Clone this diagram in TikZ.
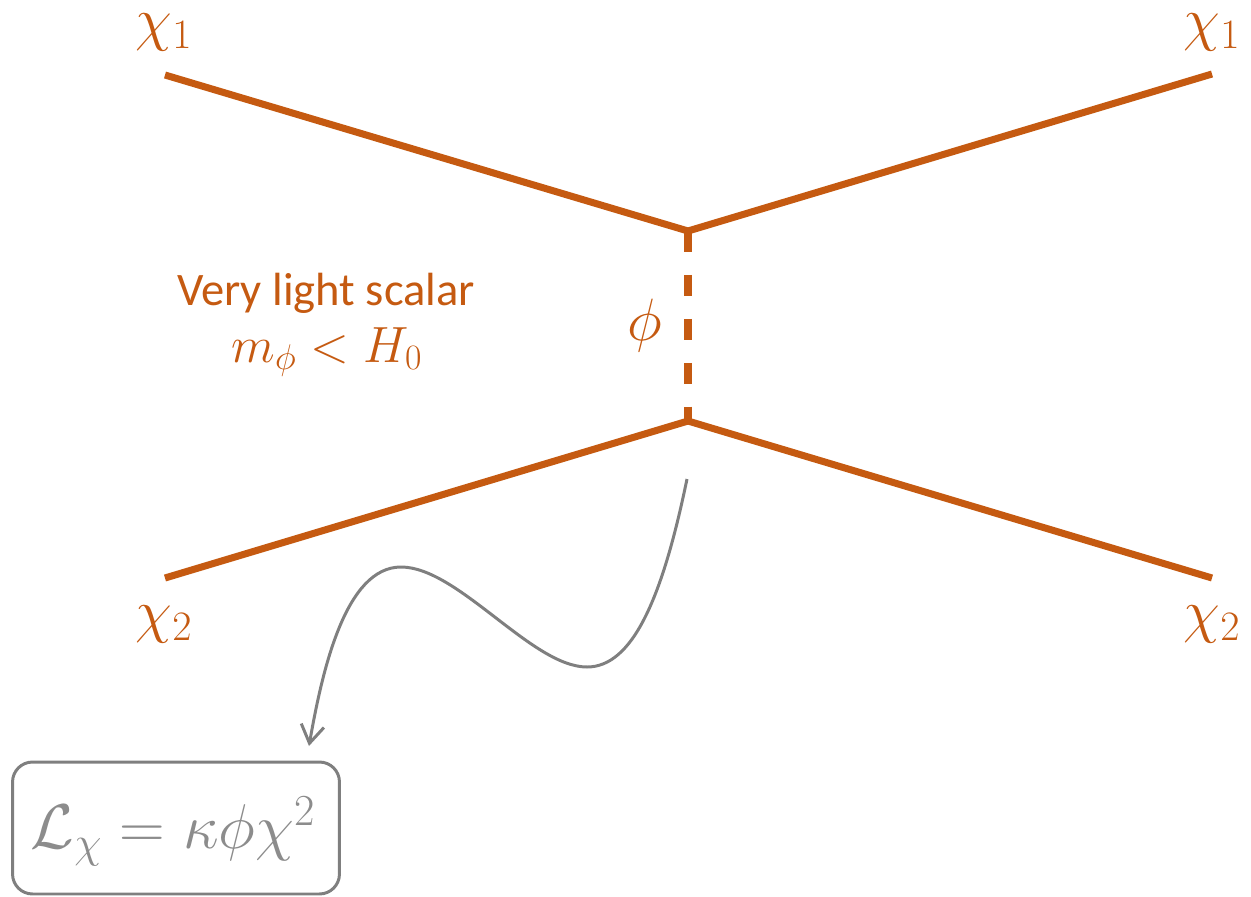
\RequirePackage{fix-cm}
\documentclass[tikz,border=0pt]{standalone}
\usepackage{fontspec}
\newfontfamily\calib{Carlito}
\usetikzlibrary{arrows.meta}
\definecolor{orng}{HTML}{C55A11}
\definecolor{gline}{HTML}{7F7F7F}
\definecolor{gtext}{HTML}{8C8C8C}
\tikzset{
  prop/.style={draw=orng, line width=4pt},
  scal/.style={draw=orng, line width=4pt, dash pattern=on 12.2pt off 12.8pt},
  lbl/.style={text=orng, inner sep=0pt, font=\fontsize{34}{40}\selectfont},
  wig/.style={draw=gline, line width=1.7pt, -{Straight Barb[length=3.6mm,width=4.6mm,line width=1.7pt]}},
  eqbox/.style={draw=gline, line width=1.7pt, rounded corners=0.4cm, minimum width=6.54cm, minimum height=2.64cm, inner sep=0pt, text=gtext}
}
\begin{document}
\begin{tikzpicture}[x=0.02cm,y=-0.02cm]
\useasboundingbox (0,0) rectangle (1251,896);
\coordinate (a1) at (165,75);
\coordinate (b1) at (1212,74);
\coordinate (a2) at (165,578);
\coordinate (b2) at (1212,578);
\coordinate (v1) at (688,231);
\coordinate (v2) at (688,421);
\draw[prop] (a1) -- (v1);
\draw[prop] (v1) -- (b1);
\draw[prop] (a2) -- (v2);
\draw[prop] (v2) -- (b2);
\draw[scal] (v1) -- (v2);
\node[lbl] (l1) at (164,32) {$\chi_1$};
\node[lbl] (r1) at (1212,32) {$\chi_1$};
\node[lbl] (l2) at (164,624) {$\chi_2$};
\node[lbl] (r2) at (1212,624) {$\chi_2$};
\node[lbl] (phi) at (645,326) {$\phi$};
\node[text=orng, anchor=base, inner sep=0pt, font=\calib\fontsize{26.5}{30}\selectfont] (vls) at (326,305) {Very light scalar};
\node[text=orng, anchor=base, inner sep=0pt, font=\fontsize{29}{34}\selectfont] (mass) at (327,362) {$m_\phi < H_0$};
\node[eqbox] (eq) at (176,828) {};
\node[text=gtext, anchor=base, inner sep=0pt, font=\fontsize{36}{40}\selectfont] (eqt) at (173,848) {$\mathcal{L}_\chi = \kappa\phi\chi^2$};
\coordinate (cs) at (687,479);
\coordinate (ce) at (309,746);
\draw[wig] (cs) .. controls (662,600) and (632,667) .. (587,667)
  .. controls (532,667) and (458,567) .. (401,567)
  .. controls (345,567) and (322,672) .. (ce);
\end{tikzpicture}
\end{document}
